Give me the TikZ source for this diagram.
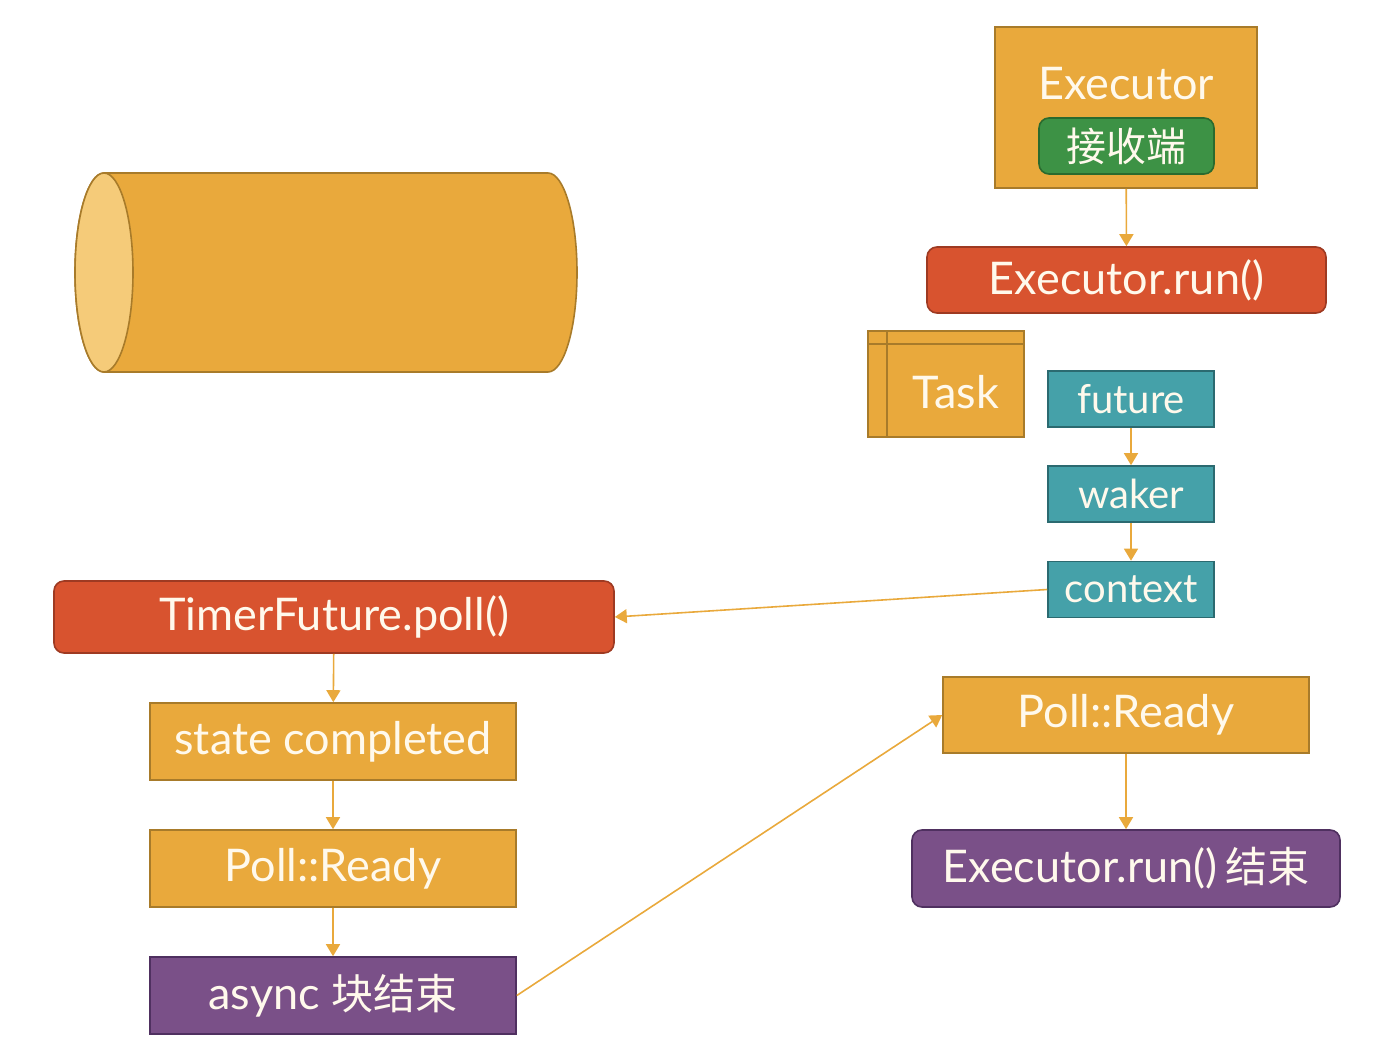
\documentclass[tikz,border=0pt]{standalone}
\usepackage{fontspec}
\setmainfont{Lato}
\newfontfamily\cjk{Noto Sans CJK SC}
\usetikzlibrary{arrows.meta, positioning, calc, shapes}

\definecolor{orfill}{HTML}{E9A93C}
\definecolor{orline}{HTML}{A87B2A}
\definecolor{orlight}{HTML}{F5CB79}
\definecolor{rdfill}{HTML}{D8532F}
\definecolor{rdline}{HTML}{9E3A22}
\definecolor{tlfill}{HTML}{45A1A9}
\definecolor{tlline}{HTML}{2B6A70}
\definecolor{gnfill}{HTML}{3D9245}
\definecolor{gnline}{HTML}{2A6A2E}
\definecolor{ppfill}{HTML}{7A5088}
\definecolor{ppline}{HTML}{4F3060}
\definecolor{txt}{HTML}{FFF9EC}

\newcommand{\zh}[1]{{\cjk\fontsize{21}{24}\selectfont #1}}

\tikzset{
  blk/.style={draw, line width=0.8pt, text=txt, inner sep=0pt,
              font=\fontsize{22.5}{26}\selectfont},
  orblk/.style={blk, fill=orfill, draw=orline},
  rdblk/.style={blk, fill=rdfill, draw=rdline, rounded corners=5pt},
  tlblk/.style={blk, fill=tlfill, draw=tlline, minimum width=83pt, minimum height=28pt,
                font=\fontsize{20}{24}\selectfont},
  ppblk/.style={blk, fill=ppfill, draw=ppline},
  lbl/.style={text=txt, inner sep=0pt, font=\fontsize{22.5}{26}\selectfont},
  flow/.style={draw=orfill, line width=0.8pt, -{Triangle[width=7pt,length=6pt]}}
}

\begin{document}
\begin{tikzpicture}[x=0.5pt,y=-0.5pt]
\useasboundingbox (0,0) rectangle (1390,1052);

% queue
\draw[fill=orfill, draw=orline, line width=0.8pt] (104,173) -- (548,173)
   arc[start angle=-90, end angle=90, x radius=29, y radius=99.5] -- (104,372)
   arc[start angle=90, end angle=270, x radius=29, y radius=99.5] -- cycle;
\draw[fill=orlight, draw=orline, line width=0.8pt] (104,272.5) ellipse[x radius=29, y radius=99.5];

% executor side
\node[orblk, minimum width=131pt, minimum height=80.5pt] (exec) at (1126,107.5) {};
\node[lbl] (execlbl) at (1126,84) {Executor};
\node[blk, fill=gnfill, draw=gnline, rounded corners=5pt, minimum width=87.5pt,
      minimum height=28pt, font=\cjk\fontsize{20}{24}\selectfont] (recv) at (1126.5,146) {接收端};
\node[rdblk, minimum width=199.5pt, minimum height=33pt] (run) at (1126.5,280) {Executor.run()};

\node[orblk, minimum width=78pt, minimum height=53pt] (task) at (946,384) {};
\draw[orline, line width=0.8pt] ($(task.north west)+(20,0)$) -- ($(task.south west)+(20,0)$);
\draw[orline, line width=0.8pt] ($(task.north west)+(0,14)$) -- ($(task.north east)+(0,14)$);
\node[lbl] (tasklbl) at (956,392) {Task};

\node[tlblk] (fut) at (1131,399) {future};
\node[tlblk] (wak) at (1131,494) {waker};
\node[tlblk] (ctx) at (1131,589.5) {context};

\node[orblk, minimum width=183pt, minimum height=38pt] (ready2) at (1126,715) {Poll::Ready};
\node[ppblk, rounded corners=5pt, minimum width=214pt, minimum height=38.5pt] (runend) at (1126,868.5)
      {Executor.run()\,\zh{结束}};

% timer future side
\node[rdblk, minimum width=280pt, minimum height=36pt] (poll) at (334,617) {TimerFuture.poll()};
\node[orblk, minimum width=183pt, minimum height=38.5pt] (state) at (333,741.5) {state completed};
\node[orblk, minimum width=183pt, minimum height=38.5pt] (ready1) at (333,868.5) {Poll::Ready};
\node[ppblk, minimum width=183pt, minimum height=38.5pt] (done) at (333,995.5) {async \zh{块结束}};

% arrows
\draw[flow] (exec) -- (run);
\draw[flow] (fut) -- (wak);
\draw[flow] (wak) -- (ctx);
\draw[flow] (ctx.west) -- (poll.east);
\draw[flow] (poll) -- (state);
\draw[flow] (state) -- (ready1);
\draw[flow] (ready1) -- (done);
\draw[flow] (done.east) -- (ready2.west);
\draw[flow] (ready2) -- (runend);
\end{tikzpicture}
\end{document}
